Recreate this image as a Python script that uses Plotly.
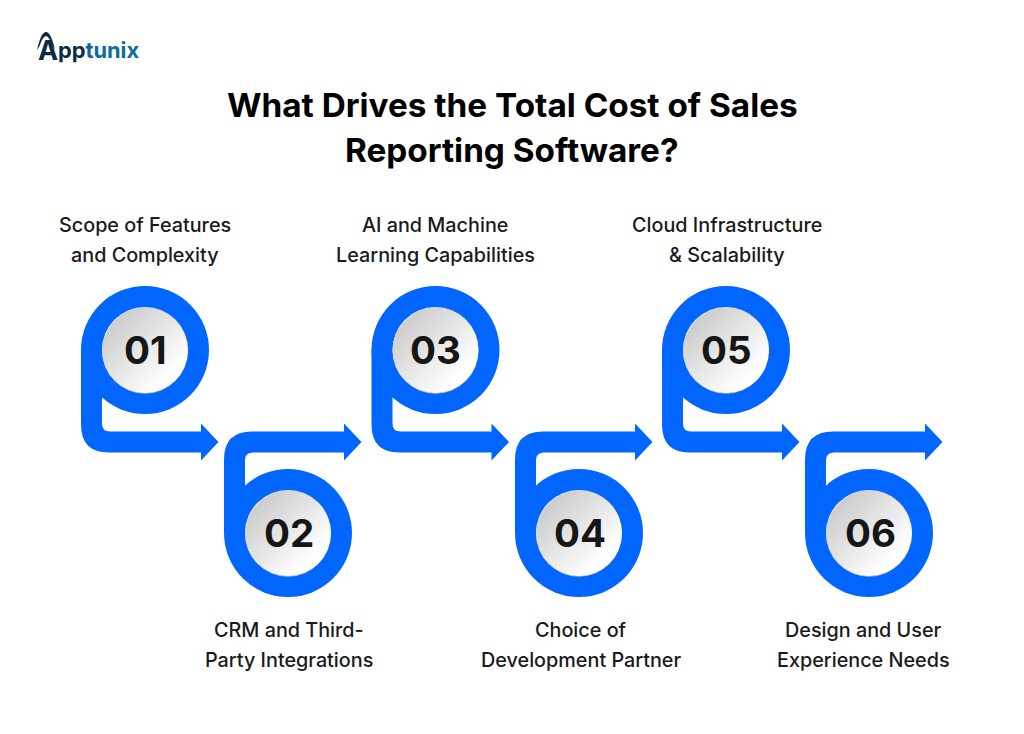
import numpy as np
import plotly.graph_objects as go

# text
title_lines = ["What Drives the Total Cost of Sales", "Reporting Software?"]
step_numbers = ["01", "02", "03", "04", "05", "06"]
step_labels = [
    ["Scope of Features", "and Complexity"],
    ["CRM and Third-", "Party Integrations"],
    ["AI and Machine", "Learning Capabilities"],
    ["Choice of", "Development Partner"],
    ["Cloud Infrastructure", "& Scalability"],
    ["Design and User", "Experience Needs"],
]

BLUE = "#0066ff"
DARK = "#161616"
NAVY = "#0d2a45"
TEAL = "#0f6aa0"
FONT = "Inter"

# page is laid out in pixels
W, H = 1024, 734
circle_x = [145, 288, 435.5, 579, 726, 869]
label_x = [145, 289, 435, 581, 726.5, 863.5]
top_cy, bottom_cy = 350, 533
R_OUT, R_IN = 64, 43
BAR_T, BAR_B = 431.5, 452.5

shapes = []
annotations = []


def circle(cx, cy, r, color):
    return dict(type="circle", xref="x", yref="y", x0=cx - r, x1=cx + r, y0=cy - r, y1=cy + r,
                fillcolor=color, line_width=0, layer="below")


def path(d, color):
    return dict(type="path", xref="x", yref="y", path=d, fillcolor=color, line_width=0, layer="below")


def arrow_path(cx, cy, top):
    # stem running along the left side of the ring, then a bar to the arrow head
    left = cx - R_OUT
    inner = left + 21
    shaft_end = left + 120
    tip = left + 137.5
    mid = (BAR_T + BAR_B) / 2
    if top:
        return (f"M{left},{cy} L{inner},{cy} L{inner},{BAR_T - 8} Q{inner},{BAR_T} {inner + 8},{BAR_T} "
                f"L{shaft_end},{BAR_T} L{shaft_end},{mid - 18.5} L{tip},{mid} L{shaft_end},{mid + 18.5} "
                f"L{shaft_end},{BAR_B} L{left + 28},{BAR_B} Q{left},{BAR_B} {left},{BAR_B - 28} Z")
    return (f"M{left},{cy} L{inner},{cy} L{inner},{BAR_B + 8} Q{inner},{BAR_B} {inner + 8},{BAR_B} "
            f"L{shaft_end},{BAR_B} L{shaft_end},{mid + 18.5} L{tip},{mid} L{shaft_end},{mid - 18.5} "
            f"L{shaft_end},{BAR_T} L{left + 28},{BAR_T} Q{left},{BAR_T} {left},{BAR_T + 28} Z")


def disc(cx, cy):
    # no gradients in shapes: paint shrinking circle segments, lighter towards the lower right
    shapes.append(circle(cx, cy + 0.7, R_IN, "#b8b8b8"))
    shapes.append(circle(cx, cy, R_IN, "#eeeeee"))
    r = R_IN - 0.8
    n = 32
    for i in range(n):
        t = i / (n - 1)
        half = np.arccos(1 - 2 * t * 0.97)
        a = np.linspace(np.pi / 4 - (np.pi - half), np.pi / 4 + (np.pi - half), 40)
        pts = [f"{cx + r * np.cos(v):.2f},{cy + r * np.sin(v):.2f}" for v in a]
        g = int(206 + (255 - 206) * min(1, t * 1.1))
        shapes.append(path("M" + " L".join(pts) + " Z", f"rgb({g},{g},{g})"))


for i, num in enumerate(step_numbers):
    top = i % 2 == 0
    cx = circle_x[i]
    cy = top_cy if top else bottom_cy
    shapes.append(path(arrow_path(cx, cy, top), BLUE))
    shapes.append(circle(cx, cy, R_OUT, BLUE))
    disc(cx, cy)
    annotations.append(dict(x=cx if top else cx + 1, y=cy, text=num, showarrow=False,
                            font=dict(family=FONT, size=38.5, color=DARK, weight=700)))
    label_y = [225, 255] if top else [630, 660]
    for line, y in zip(step_labels[i], label_y):
        annotations.append(dict(x=label_x[i], y=y, text=line, showarrow=False,
                                font=dict(family=FONT, size=19.8, color="#1a1a1a", weight=500)))

for line, y in zip(title_lines, [105, 150]):
    annotations.append(dict(x=512, y=y, text=line, showarrow=False,
                            font=dict(family=FONT, size=33.3, color="#000000", weight=700)))

# logo
annotations.append(dict(x=36, y=50, xanchor="left", yanchor="middle", showarrow=False, text="A",
                        font=dict(family=FONT, size=27, color=NAVY, weight=700)))
annotations.append(dict(x=56, y=50, xanchor="left", yanchor="middle", showarrow=False,
                        text=f'<span style="color:{NAVY}">pp</span><span style="color:{TEAL}">tunix</span>',
                        font=dict(family=FONT, size=21.8, weight=700)))
shapes.append(path("M37,50 Q41,32 46,32 Q51,32 55,50 L52.5,46 Q49,36 46,36 Q43,36 39.5,46 Z", NAVY))

fig = go.Figure()
fig.update_layout(
    width=W, height=H, margin=dict(l=0, r=0, t=0, b=0),
    paper_bgcolor="white", plot_bgcolor="white", showlegend=False,
    xaxis=dict(range=[0, W], visible=False, fixedrange=True),
    yaxis=dict(range=[H, 0], visible=False, fixedrange=True),
    shapes=shapes, annotations=annotations,
)

# browser's default body margin would push everything 8px in
fig.write_html("out.html", config={"displayModeBar": False},
               post_script="document.body.style.margin='0';document.body.style.overflow='hidden';")
